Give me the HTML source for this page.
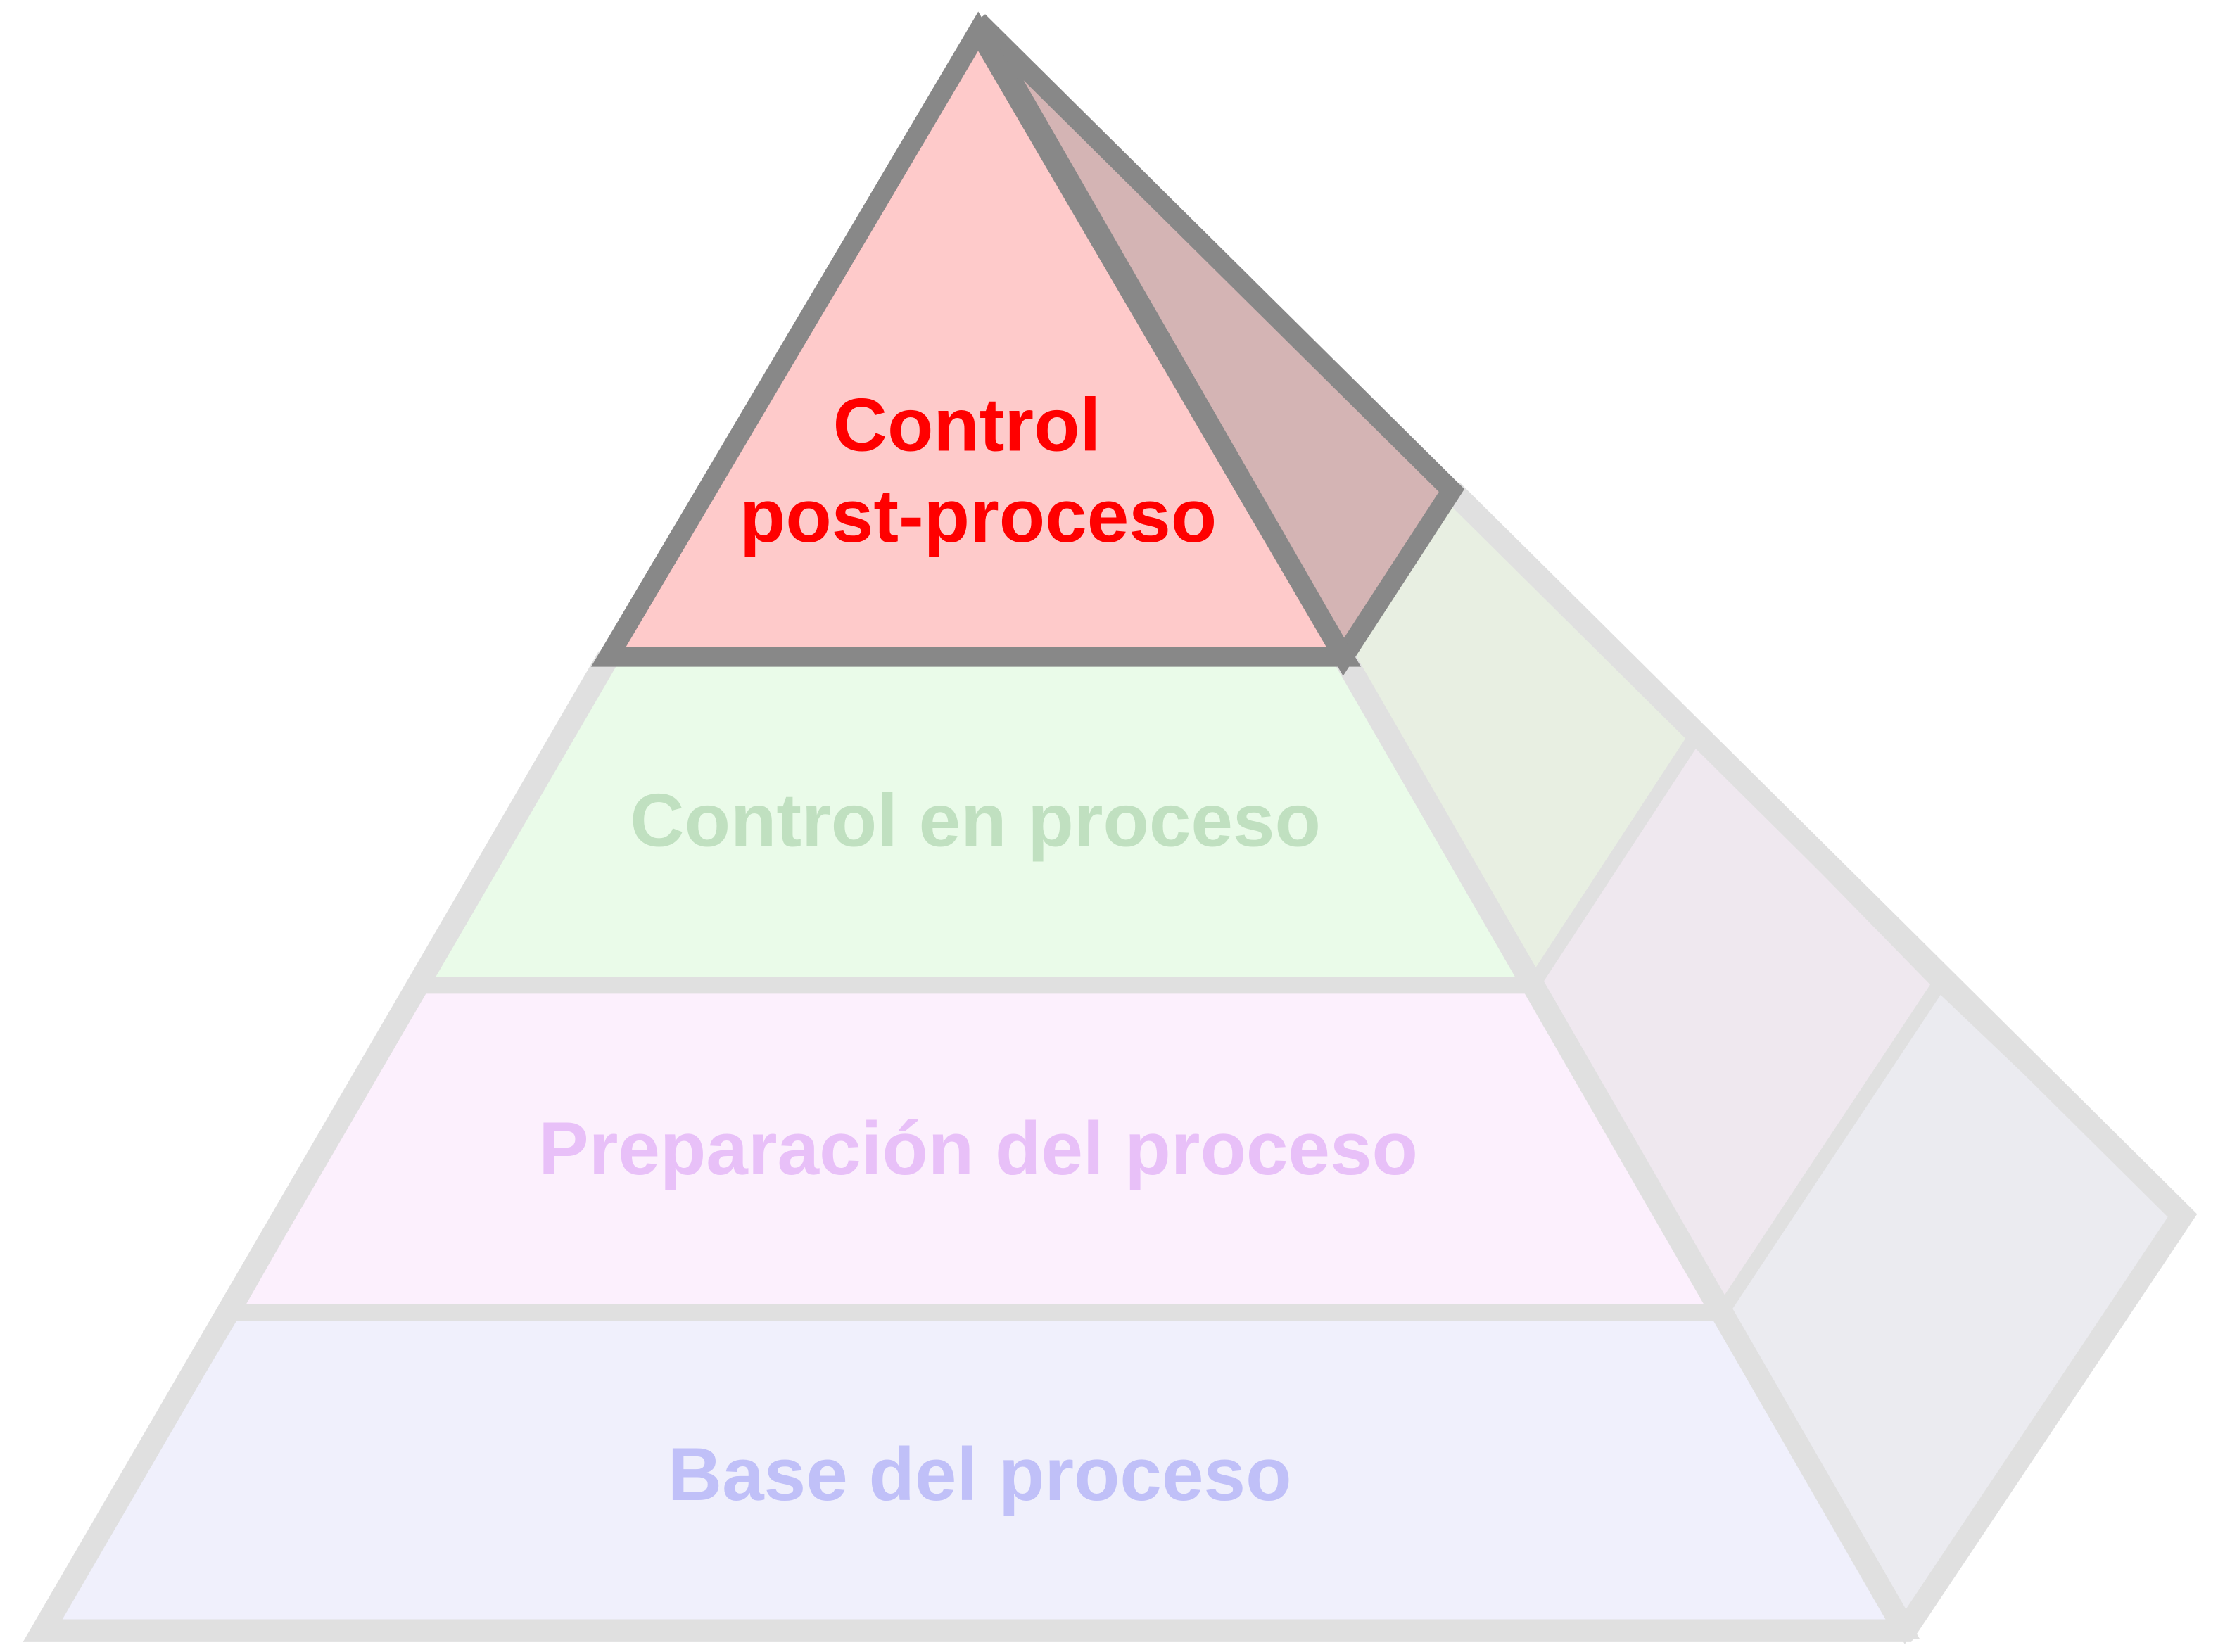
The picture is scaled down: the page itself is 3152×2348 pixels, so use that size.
<!DOCTYPE html>
<html><head><style>html,body{margin:0;padding:0;background:#fff;}svg{display:block}</style></head>
<body>
<svg width="3152" height="2348" viewBox="0 0 1560 1162" preserveAspectRatio="none" xmlns="http://www.w3.org/2000/svg">
<g stroke-linejoin="miter" stroke="#e0e0e0" stroke-width="14">
<polygon points="945,462 1021,345 1193,517 1078,693" fill="#e8efe2" stroke-width="10"/>
<polygon points="1078,693 1193,517 1364,692 1211,923" fill="#efe8ef" stroke-width="10"/>
<polygon points="1211,923 1364,692 1535,855 1340,1147" fill="#ebebf0" stroke-width="10"/>
<polygon points="428,462 945,462 1078,693 294,693" fill="#eafbe9" stroke-width="12"/>
<polygon points="294,693 1078,693 1211,923 163,923" fill="#fcf0fd" stroke-width="12"/>
<polygon points="163,923 1211,923 1340,1147 30,1147" fill="#f0f0fc" stroke-width="12"/>
<polyline points="428,462 30,1147 1340,1147 1535,855 1021,345" fill="none" stroke-width="16"/>
<line x1="945" y1="462" x2="1340" y2="1147" stroke-width="16"/>
</g>
<polygon points="688,15 1021,345 945,462" fill="#d4b4b4" stroke="#888" stroke-width="14" stroke-linejoin="miter"/>
<polygon points="688,22 945,462 428,462" fill="#fecaca" stroke="#888" stroke-width="14" stroke-linejoin="miter"/>
<g font-family="Liberation Sans, Arial, sans-serif" font-weight="bold" font-size="53" text-anchor="middle">
<text x="680" y="317" fill="#ff0000">Control</text>
<text x="688" y="381" fill="#ff0000">post-proceso</text>
<text x="686" y="595" fill="#c0e0c0">Control en proceso</text>
<text x="688" y="826" fill="#e8c0f8">Preparación del proceso</text>
<text x="689" y="1055" fill="#c0c0f8">Base del proceso</text>
</g>
</svg>
</body></html>
